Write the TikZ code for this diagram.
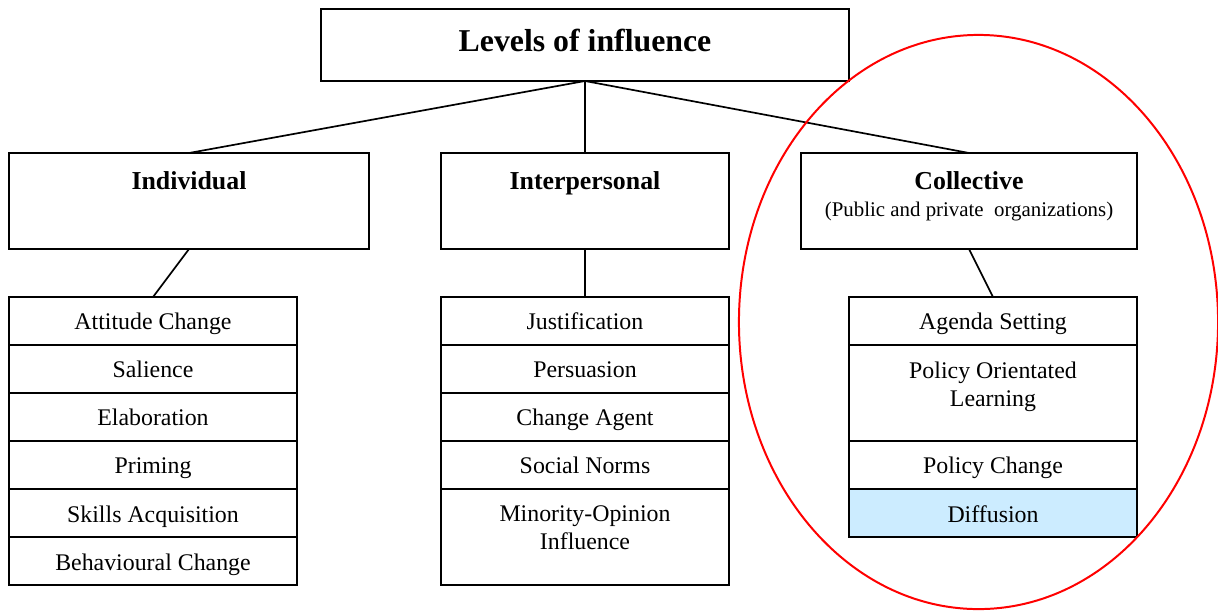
\documentclass[tikz,border=0pt]{standalone}
\usepackage{fontspec}
\setmainfont{Liberation Serif}
\usetikzlibrary{positioning}
\definecolor{diffblue}{RGB}{204,236,255}
\newcommand{\toptext}[3]{\parbox[c][48.3pt][t]{#1}{\centering\vspace*{#2}#3\par}}

\begin{document}
\begin{tikzpicture}[x=0.503pt, y=-0.503pt]
\tikzstyle{frame} = [rectangle, draw=black, line width=0.85pt, inner sep=0pt, outer sep=0pt]
\tikzstyle{titlebox} = [frame, minimum width=265.6pt, minimum height=36.2pt, font=\fontsize{16}{19}\selectfont\bfseries, text depth=5pt]
\tikzstyle{header} = [frame, minimum height=48.3pt, font=\fontsize{10.5}{13}\selectfont]
\tikzstyle{cell} = [frame, minimum width=144.9pt, minimum height=24.15pt, font=\fontsize{12}{14}\selectfont, text height=10pt, text depth=1pt]
\tikzstyle{tallcell} = [frame, minimum width=144.9pt, minimum height=48.3pt, font=\fontsize{12}{14}\selectfont]
\tikzstyle{link} = [line width=0.85pt]

\useasboundingbox (0,0) rectangle (1218,611);

\node (title) [titlebox] at (585,45) {Levels of influence};

\node (indiv) [header, minimum width=181.1pt] at (189,201) {\toptext{170pt}{9.1pt}{{\fontsize{13}{16}\selectfont\bfseries Individual}}};
\node (inter) [header, minimum width=144.9pt] at (585,201) {\toptext{140pt}{9.1pt}{{\fontsize{13}{16}\selectfont\bfseries Interpersonal}}};
\node (coll) [header, minimum width=169pt] at (969,201) {\toptext{160pt}{9.1pt}{{\fontsize{13}{16}\selectfont\bfseries Collective}\\[1pt](Public and private\ \ organizations)}};

% individual
\node (att) [cell, anchor=north] at (153,297) {Attitude Change};
\node (sal) [cell, below=0pt of att] {Salience};
\node (elab) [cell, below=0pt of sal] {Elaboration};
\node (prim) [cell, below=0pt of elab] {Priming};
\node (skill) [cell, below=0pt of prim] {Skills Acquisition};
\node (behav) [cell, below=0pt of skill] {Behavioural Change};

% interpersonal
\node (just) [cell, anchor=north] at (585,297) {Justification};
\node (pers) [cell, below=0pt of just] {Persuasion};
\node (agent) [cell, below=0pt of pers] {Change Agent};
\node (norms) [cell, below=0pt of agent] {Social Norms};
\node (minor) [tallcell, below=0pt of norms] {\toptext{140pt}{8.4pt}{Minority-Opinion\\Influence}};

% collective
\node (agenda) [cell, anchor=north] at (993,297) {Agenda Setting};
\node (learn) [tallcell, below=0pt of agenda] {\toptext{140pt}{8.4pt}{Policy Orientated\\Learning}};
\node (polch) [cell, below=0pt of learn] {Policy Change};
\node (diff) [cell, fill=diffblue, below=0pt of polch] {Diffusion};

\draw [link] (title.south) -- (indiv.north);
\draw [link] (title.south) -- (inter.north);
\draw [link] (title.south) -- (coll.north);
\draw [link] (indiv.south) -- (att.north);
\draw [link] (inter.south) -- (just.north);
\draw [link] (coll.south) -- (agenda.north);

\draw [red, line width=1pt] (978.5,322) ellipse [x radius=120.5pt, y radius=144.4pt];

\end{tikzpicture}
\end{document}
